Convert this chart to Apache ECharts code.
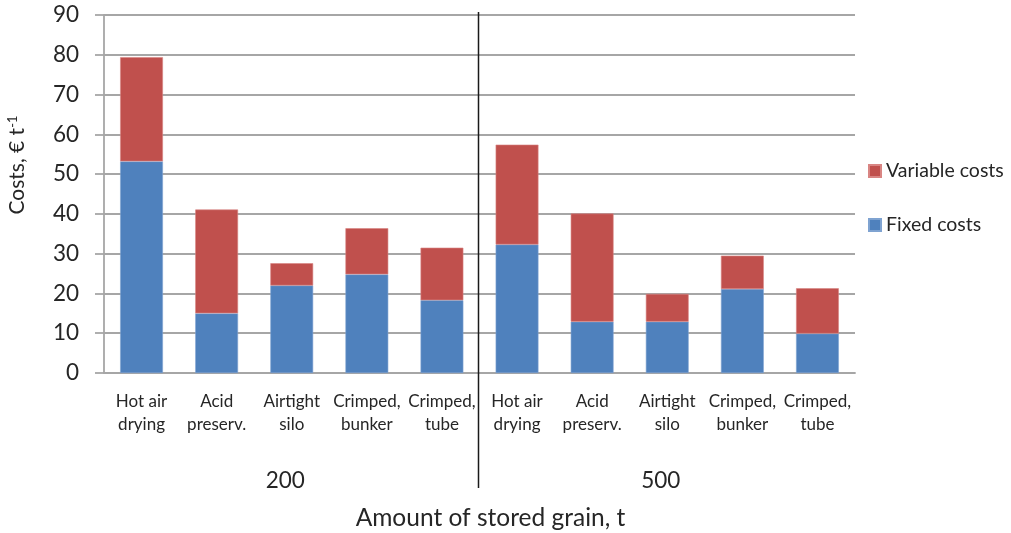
<!DOCTYPE html>
<html><head><meta charset="utf-8">
<script src="https://cdn.jsdelivr.net/npm/echarts@6/dist/echarts.min.js"></script>
<style>html,body{margin:0;padding:0;background:#fff}#c{width:1011px;height:533px}</style>
</head><body><div id="c"></div>
<script>
const categories = ['Hot air\ndrying','Acid\npreserv.','Airtight\nsilo','Crimped,\nbunker','Crimped,\ntube',
                    'Hot air\ndrying','Acid\npreserv.','Airtight\nsilo','Crimped,\nbunker','Crimped,\ntube'];
const groups = ['200','500'];
const fixedCosts = [53.2, 15.0, 22.0, 24.8, 18.3, 32.3, 12.9, 12.9, 21.1, 9.9];
const variableCosts = [26.2, 26.1, 5.6, 11.6, 13.2, 25.1, 27.2, 7.0, 8.4, 11.4];
const yTicks = {min: 0, max: 90, interval: 10};

const FONT = 'Lato, "Liberation Sans", sans-serif';
const TXT = '#262626';
const GRID = '#a6a6a6';
const chart = echarts.init(document.getElementById('c'), null, {renderer: 'canvas'});
const option = {
  animation: false,
  textStyle: {fontFamily: FONT, color: TXT},
  grid: {left: 104, right: 156, top: 15, bottom: 160, containLabel: false, outerBoundsMode: 'none'},
  legend: {
    orient: 'vertical', left: 868, top: 161, itemGap: 34, padding: 0,
    itemWidth: 12, itemHeight: 12, icon: 'rect',
    data: ['Variable costs', 'Fixed costs'],
    textStyle: {fontFamily: FONT, fontSize: 19.5, color: TXT}
  },
  xAxis: [{
    type: 'category', data: categories,
    axisLine: {show: true, lineStyle: {color: GRID, width: 1.8}},
    axisTick: {show: false},
    axisLabel: {interval: 0, margin: 17, fontFamily: FONT, fontSize: 17, color: TXT, lineHeight: 23},
    name: 'Amount of stored grain, t', nameLocation: 'middle', nameGap: 133,
    nameTextStyle: {fontFamily: FONT, fontSize: 24.5, color: TXT, padding: [0, 0, 0, 22]}
  }, {
    type: 'category', data: groups, position: 'bottom',
    axisLine: {show: false}, axisTick: {show: false},
    axisLabel: {margin: 96, fontFamily: FONT, fontSize: 22.5, color: TXT, padding: [0, 13, 0, 0]}
  }],
  yAxis: {
    type: 'value', min: yTicks.min, max: yTicks.max, interval: yTicks.interval,
    axisLine: {show: true, lineStyle: {color: GRID, width: 1.8}},
    axisTick: {show: true, length: 9, lineStyle: {color: GRID, width: 1.8}},
    splitLine: {show: true, lineStyle: {color: GRID, width: 1.8}},
    axisLabel: {margin: 25, fontFamily: FONT, fontSize: 22.5, color: TXT},
    name: 'Costs, € t{sup|-1}', nameLocation: 'middle', nameGap: 75, nameRotate: 90,
    nameTextStyle: {fontFamily: FONT, fontSize: 21, color: TXT, padding: [0, 0, 0, 58],
      rich: {sup: {fontFamily: FONT, fontSize: 13, color: TXT, verticalAlign: 'top', padding: [0, 0, 10, 0]}}}
  },
  series: [{
    name: 'Fixed costs', type: 'bar', stack: 'c', data: fixedCosts, barWidth: '57%',
    itemStyle: {color: '#4f81bd', borderColor: '#7fa3d1', borderWidth: 0.6}
  }, {
    name: 'Variable costs', type: 'bar', stack: 'c', data: variableCosts, barWidth: '57%',
    itemStyle: {color: '#c0504d', borderColor: '#d98583', borderWidth: 0.6}
  }]
};
chart.setOption(option);
// group divider between the two groups, positioned via the axis scale
const x4 = chart.convertToPixel({xAxisIndex: 0}, 4);
const x5 = chart.convertToPixel({xAxisIndex: 0}, 5);
const yTop = chart.convertToPixel({yAxisIndex: 0}, yTicks.max);
const yBot = chart.convertToPixel({yAxisIndex: 0}, yTicks.min);
const xd = Math.round((x4 + x5) / 2) - 1.5;
chart.setOption({graphic: [{
  type: 'line', shape: {x1: xd, y1: yTop - 3, x2: xd, y2: yBot + 115},
  style: {stroke: '#1a1a1a', lineWidth: 1.5}, z: 10
}]});
</script></body></html>
